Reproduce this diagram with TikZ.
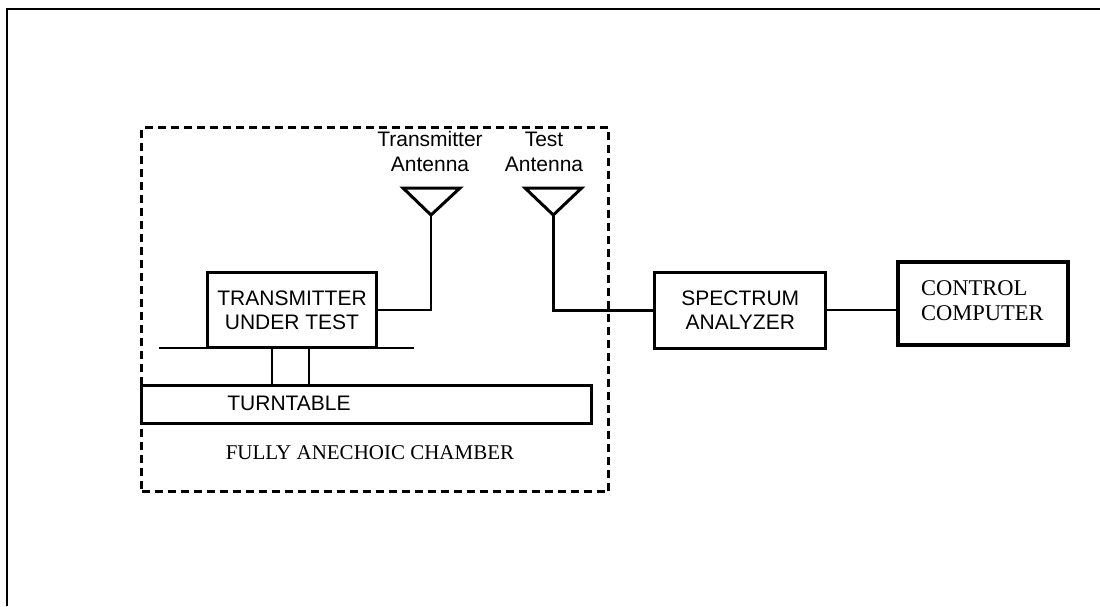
\documentclass[tikz,border=0pt]{standalone}
\usepackage{fontspec}
\setmainfont{Liberation Sans}
\newfontfamily\timesfont{Liberation Serif}
\begin{document}
\begin{tikzpicture}[x=1pt,y=-1pt,
  boxstyle/.style={draw, line width=3pt, inner sep=0pt, align=center, font=\fontsize{21}{24}\selectfont},
  lbl/.style={inner sep=0pt, align=center, font=\fontsize{21}{25}\selectfont},
  serif/.style={inner sep=0pt, align=left, font=\timesfont\fontsize{22.5}{24.5}\selectfont},
  thickline/.style={line width=3pt},
  antline/.style={line width=2.6pt},
  thinline/.style={line width=2.2pt}]
\useasboundingbox (0,0) rectangle (1100,606);
% outer frame (left and top only)
\draw[line width=2.4pt] (7,606) -- (7,9) -- (1100,9);
% chamber
\node[draw, line width=2.2pt, dash pattern=on 8pt off 5pt, minimum width=467pt, minimum height=364pt, inner sep=0pt] (chamber) at (375,309.5) {};
\node[lbl, font=\timesfont\fontsize{21}{24}\selectfont] (chlbl) at (370,453) {FULLY ANECHOIC CHAMBER};
% transmitter under test
\node[boxstyle, minimum width=169pt, minimum height=75pt] (tut) at (292,310.2) {TRANSMITTER\\UNDER TEST};
% platform
\coordinate (pl) at (159,347.7);
\coordinate (pr) at (414,347.7);
\draw[thinline] (pl) -- (pr);
% turntable
\node[draw, line width=2.8pt, minimum width=450pt, minimum height=37.6pt, inner sep=0pt] (turntable) at (366.7,404.5) {};
\node[lbl] (ttlbl) at (289,403.5) {TURNTABLE};
\draw[thinline] (272.3,347.7) -- (272.3,385.7);
\draw[thinline] (309.3,347.7) -- (309.3,385.7);
% antennas
\coordinate (txa) at (431,215);
\coordinate (tsa) at (553.3,215);
\draw[line width=3pt, line join=miter] (403,188) -- (460,188) -- (txa) -- cycle;
\draw[line width=3pt, line join=miter] (525,188) -- (581.7,188) -- (tsa) -- cycle;
\node[lbl] (txlbl) at (430,151.5) {Transmitter\\Antenna};
\node[lbl] (tslbl) at (544,151.5) {Test\\Antenna};
% spectrum analyzer
\node[boxstyle, minimum width=170.7pt, minimum height=76pt] (sa) at (740.3,310.3) {SPECTRUM\\ANALYZER};
% control computer
\node[draw, line width=4pt, minimum width=170.6pt, minimum height=82.7pt, inner sep=0pt] (cc) at (983,303.7) {};
\node[serif, anchor=west] (cclbl) at (921,300.5) {CONTROL\\COMPUTER};
% connectors
\draw[antline, line join=miter] (txa) -- (431,310) -- (tut.east |- 0,310);
\draw[thickline, line join=miter] (tsa) -- (553.3,310) -- (sa.west |- 0,310);
\draw[thinline] (sa.east |- 0,310) -- (cc.west |- 0,310);
\end{tikzpicture}
\end{document}
